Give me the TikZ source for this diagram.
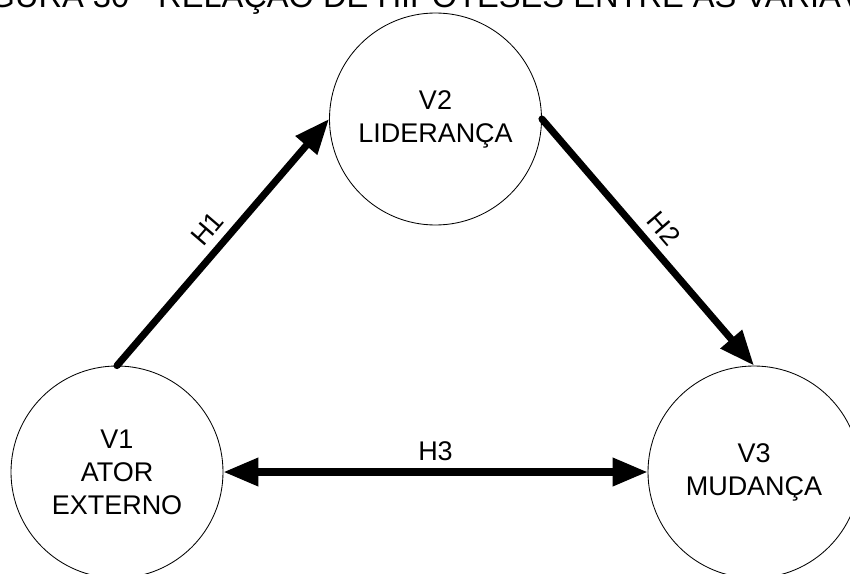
\documentclass[tikz,border=0pt]{standalone}
\usepackage{fontspec}
\setmainfont{Liberation Sans}
\usetikzlibrary{arrows.meta, positioning, calc}
\tikzset{
	varnode/.style={draw=black, fill=white, line width=0.6pt, shape=circle, minimum size=5.3cm, inner sep=0pt, align=center, font=\fontsize{19.2}{23.4}\selectfont},
	hypothesis/.style={line width=5pt, line cap=round, -{Triangle[length=8.75mm, width=6.75mm]}},
	mutual/.style={line width=5pt, {Triangle[length=8.75mm, width=6.75mm]}-{Triangle[length=8.75mm, width=6.75mm]}},
	annotation/.style={font=\fontsize{19.2}{23.4}\selectfont, inner sep=2mm, midway, sloped, above}
}
\begin{document}
\begin{tikzpicture}[node distance = 15.925cm, on grid]
	\path[use as bounding box, clip] (0,0) rectangle (21.25,-14.35);
	% title
	\node (title) [anchor=base, inner sep=0pt, font=\fontsize{23.2}{28}\selectfont] at (10.95,-0.18) {FIGURA 30 - RELAÇÃO DE HIPÓTESES ENTRE AS VARIÁVEIS};

	% V
	\node (v1) [varnode] at (2.925,-11.8) {V1\\ATOR\\EXTERNO};
	\node (v3) [varnode, right = of v1] {V3\\MUDANÇA};
	\node (v2) [varnode] at ($(v1)!0.5!(v3)+(0,8.825)$) {V2\\LIDERANÇA};

	% H
	\draw[hypothesis] (v1.north) -- node[annotation] {H1} (v2.west);
	\draw[hypothesis] (v2.east) -- node[annotation] {H2} (v3.north);
	\draw[mutual] (v1.east) -- node[annotation] {H3} (v3.west);
\end{tikzpicture}
\end{document}
